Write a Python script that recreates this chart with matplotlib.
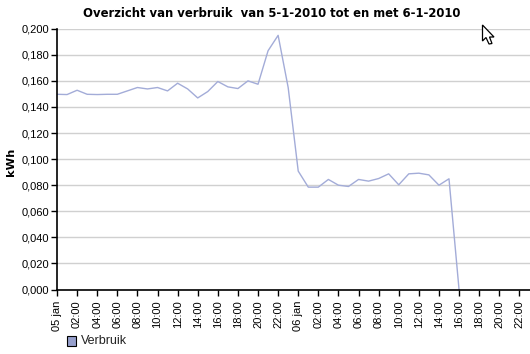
import matplotlib
matplotlib.use("Agg")
import matplotlib.pyplot as plt
from matplotlib.patches import Polygon, Rectangle

W, H = 530, 354

hours = list(range(41))
verbruik = [0.1497, 0.1495, 0.1528, 0.1497, 0.1495, 0.1497, 0.1497, 0.1523, 0.1549,
            0.1538, 0.1549, 0.1523, 0.1582, 0.1538, 0.1469, 0.1518, 0.1595, 0.1554,
            0.1541, 0.1600, 0.1574, 0.1831, 0.1949, 0.1549, 0.0908, 0.0785, 0.0785,
            0.0844, 0.0800, 0.0790, 0.0844, 0.0831, 0.0851, 0.0887, 0.0803, 0.0887,
            0.0892, 0.0879, 0.0800, 0.0849, 0.0000]

x_ticks = list(range(0, 48, 2))
x_labels = ["05 jan", "02:00", "04:00", "06:00", "08:00", "10:00", "12:00", "14:00",
            "16:00", "18:00", "20:00", "22:00", "06 jan", "02:00", "04:00", "06:00",
            "08:00", "10:00", "12:00", "14:00", "16:00", "18:00", "20:00", "22:00"]
y_ticks = [0.0, 0.02, 0.04, 0.06, 0.08, 0.1, 0.12, 0.14, 0.16, 0.18, 0.2]
y_labels = ["0,000", "0,020", "0,040", "0,060", "0,080", "0,100", "0,120", "0,140",
            "0,160", "0,180", "0,200"]

plt.rcParams["font.family"] = ["Liberation Sans", "DejaVu Sans"]

fig = plt.figure(figsize=(W / 100, H / 100), dpi=100)
ax = fig.add_axes([57 / W, 1 - 289.5 / H, 473 / W, 260.8 / H])

ax.plot(hours, verbruik, color="#a3acd8", linewidth=1.0)

ax.set_xlim(0, 47.06)
ax.set_ylim(0, 0.2)
ax.set_xticks(x_ticks)
ax.set_xticklabels(x_labels, rotation=90, fontsize=8)
ax.set_yticks(y_ticks)
ax.set_yticklabels(y_labels, fontsize=8)
ax.tick_params(axis="y", length=4, width=1, color="black", pad=1.5)
ax.tick_params(axis="x", length=4, width=1, color="black", pad=4)
ax.grid(True, axis="y", color="#d0d0d0", linewidth=1.0)
ax.set_axisbelow(True)
ax.spines["top"].set_visible(False)
ax.spines["right"].set_visible(False)
ax.spines["left"].set_linewidth(1.2)
ax.spines["bottom"].set_linewidth(1.2)

fig.text(11 / W, 1 - 162 / H, "kWh", rotation=90, ha="center", va="center",
         fontsize=8.2, fontweight="bold", family="DejaVu Sans")
fig.text(272 / W, 1 - 13.5 / H, "Overzicht van verbruik  van 5-1-2010 tot en met 6-1-2010",
         ha="center", va="center", fontsize=8.4, fontweight="bold", family="DejaVu Sans")

# legenda
fig.add_artist(Rectangle((66.5 / W, 1 - 345.5 / H), 9.5 / W, 9.5 / H, transform=fig.transFigure,
                         facecolor="#969fcc", edgecolor="black", linewidth=0.8))
fig.text(81 / W, 1 - 341 / H, "Verbruik", ha="left", va="center", fontsize=9, color="#222222")

# muiscursor uit de schermafbeelding
cursor = [(482.5, 25), (482.5, 41), (486, 37.5), (489, 44), (492, 43.5), (489.5, 37), (494, 37)]
fig.add_artist(Polygon([(x / W, 1 - y / H) for x, y in cursor], closed=True, transform=fig.transFigure,
                       facecolor="white", edgecolor="black", linewidth=0.9))

fig.savefig("out.png", dpi=100)
